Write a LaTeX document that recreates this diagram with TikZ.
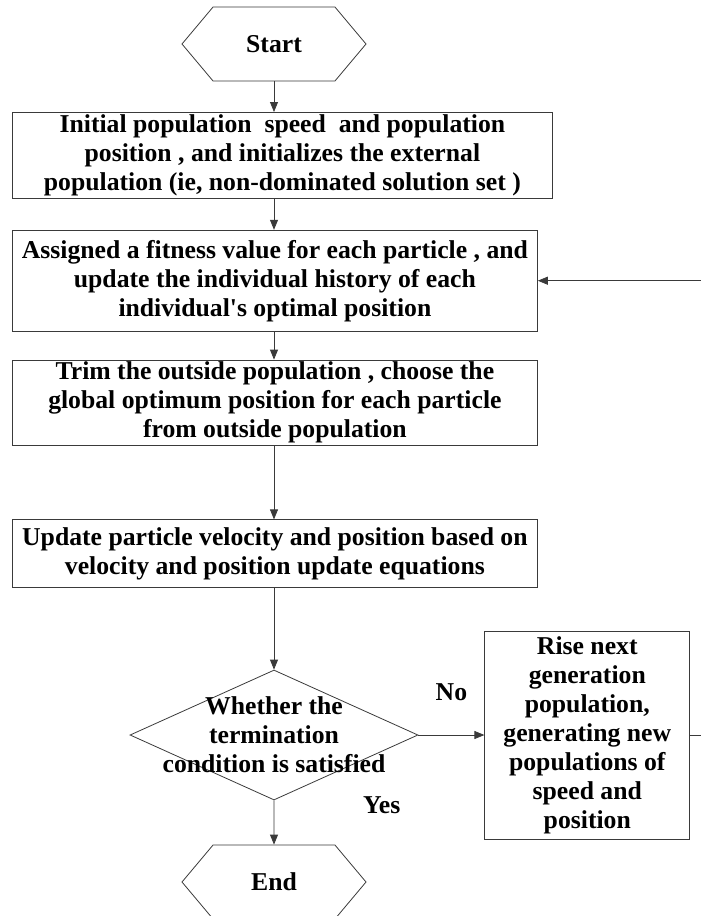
\documentclass[tikz,border=0pt]{standalone}
\usepackage{fontspec}
\setmainfont{Liberation Serif}
\newfontfamily\plainserif{Liberation Serif}
\usetikzlibrary{positioning,arrows.meta,shapes.geometric,shapes.symbols}
\definecolor{cL}{HTML}{3A3A3A}

\begin{document}
\begin{tikzpicture}[x=1pt,y=-1pt,
  font=\fontsize{25.7}{29}\selectfont\bfseries,
  bx/.style={draw=cL,line width=.8pt,inner sep=0pt,align=center},
  hexa/.style={draw=cL,line width=.8pt,signal,signal to=west and east,signal pointer angle=100,
    minimum width=184pt,minimum height=74pt,inner sep=0pt},
  dia/.style={draw=cL,line width=.8pt,diamond,minimum width=288pt,minimum height=130pt,inner sep=0pt},
  lbl/.style={inner sep=0pt,text=black},
  ar/.style={-{Triangle[length=10pt,width=8pt]},line width=.8pt,cL}]
\clip (0,0) rectangle (701,916);
\node[hexa] (start) at (274,44) {Start};
\node[bx,anchor=north west,minimum width=540pt,minimum height=86pt] (init) at (12,112)
  {Initial population~ speed~ and population\\position , and initializes the external\\population (ie, non-dominated solution set )};
\node[bx,below=31pt of init.south west,anchor=north west,minimum width=525pt,minimum height=101pt] (fit)
  {Assigned a fitness value for each particle , and\\update the individual history of each\\individual{\plainserif\bfseries '}s optimal position};
\node[bx,below=28pt of fit.south west,anchor=north west,minimum width=525pt,minimum height=85pt] (trim)
  {Trim the outside population , choose the\\global optimum position for each particle\\from outside population};
\node[bx,below=74pt of trim.south west,anchor=north west,minimum width=525pt,minimum height=68pt] (upd)
  {Update particle velocity and position based on\\velocity and position update equations};
% text sits over the diamond, it does not size it
\node[dia,label={[lbl,align=center]center:Whether the\\termination\\condition is satisfied}] (cond) at (274,735) {};
\node[bx,right=66pt of cond,minimum width=205pt,minimum height=208pt] (rise)
  {Rise next\\generation\\population,\\generating new\\populations of\\speed and\\position};
\node[hexa] (end) at (274,882) {End};
\draw[ar] (start) -- (start |- init.north);
\draw[ar] (start |- init.south) -- (start |- fit.north);
\draw[ar] (start |- fit.south) -- (start |- trim.north);
\draw[ar] (start |- trim.south) -- (start |- upd.north);
\draw[ar] (start |- upd.south) -- (cond);
\draw[ar] (cond) -- (rise) node[midway,above=34pt,lbl] {No};
\draw[ar] (cond) -- (end);
\node[lbl,right=89pt of cond.south,yshift=-5pt] (yes) {Yes};
% loop back runs just past the right edge
\draw[ar] (rise.east) -- ++(14,0) |- (fit.east);
\end{tikzpicture}
\end{document}
